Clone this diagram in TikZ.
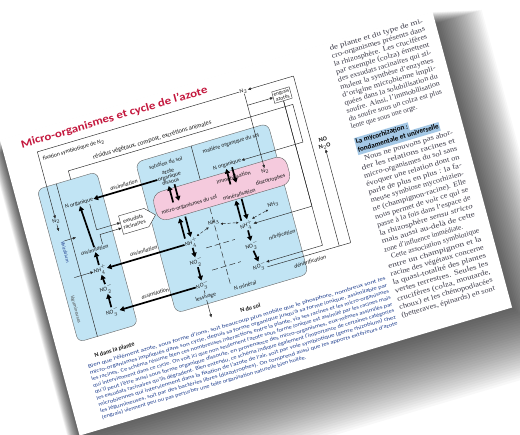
\documentclass[tikz,border=0pt]{standalone}
\usepackage{fontspec}
\usepackage{graphicx}
\setmainfont{Liberation Serif}
\newfontfamily\dia{Carlito}
\usetikzlibrary{arrows.meta,shapes.symbols}
\definecolor{boxblue}{HTML}{C1E4F4}
\definecolor{bandpink}{HTML}{F5CADD}
\definecolor{titlered}{HTML}{C4173D}
\definecolor{parablue}{HTML}{1F3F8F}
\definecolor{coltext}{HTML}{3B3A48}
\definecolor{hilite}{HTML}{A4C8E6}
\newcommand\pline[1]{\resizebox{310pt}{\height}{#1}}
\newcommand\colj[1]{\resizebox{97pt}{\height}{#1}}
\newcommand\colji[1]{\hspace*{5pt}\resizebox{92pt}{\height}{#1}}
\begin{document}
\begin{tikzpicture}[x=1pt,y=-1pt,
 lbl/.style={font=\dia\fontsize{5.8}{6}\selectfont, inner sep=0.4pt, transform shape, align=center, text=black!90},
 itl/.style={lbl, font=\dia\itshape\fontsize{5.8}{6}\selectfont},
 bld/.style={lbl, font=\dia\bfseries\fontsize{6.2}{6.6}\selectfont},
 ln/.style={line width=0.45pt, draw=black!85},
 ar/.style={ln, -{Triangle[length=3pt,width=2.6pt]}},
 tk/.style={line width=1.7pt, draw=black, -{Triangle[length=4.6pt,width=5.2pt]}},
 dsh/.style={ln, dash pattern=on 6pt off 3pt},
 dar/.style={ln, densely dashed, {Triangle[length=2.2pt,width=2.2pt]}-{Triangle[length=2.2pt,width=2.2pt]}},
 boxst/.style={draw=black!60, line width=0.4pt, transform shape, inner sep=0},
]
\useasboundingbox (0,0) rectangle (520,435);
\fill[white] (0,0) rectangle (520,435);
\begin{scope}[cm={0.959,0.284,-0.26,0.966,(0pt,-140pt)}]
 % shadow
 \foreach \k in {1,...,30}{
   \fill[black,opacity=0.027] ({0.6*\k-1.0*\k},{1.4*\k-1.0*\k}) rectangle ({451+0.6*\k+1.0*\k},{306+1.4*\k+1.0*\k});
 }
 \fill[white] (0,0) rectangle (451,306);

 % boxes
 \node[boxst, fill=boxblue, rounded corners=6pt, minimum width=62pt, minimum height=158pt] (plant) at (54,137) {};
 \node[boxst, fill=boxblue, rounded corners=7pt, minimum width=138pt, minimum height=156pt] (soil) at (194,138) {};
 \node[boxst, fill=bandpink, rounded corners=10pt, minimum width=139pt, minimum height=29pt] (band) at (201.5,109.5) {};

 % title
 \node[anchor=base west, inner sep=0, text=titlered, font=\dia\bfseries\fontsize{11}{12}\selectfont, transform shape] (title) at (19,14) {\resizebox{194pt}{\height}{Micro-organismes et cycle de l’azote}};

 % top labels
 \node[lbl] (n2top) at (248,22) {N$_2$};
 \node[lbl] (n2pl) at (33,94) {N$_2$};
 \node[lbl, anchor=base west] (fix) at (36,32) {fixation symbiotique de N$_2$};
 \node[lbl, anchor=base, font=\dia\fontsize{6.4}{6.6}\selectfont] (res) at (147,45) {résidus végétaux, compost, excrétions animales};
 \node[lbl, draw=black!80, fill=white, inner sep=1.2pt, font=\dia\fontsize{5.4}{5.6}\selectfont] (eng) at (284,37) {engrais\\azotés};
 \node[bld] (nox) at (312,95) {NO\\N$_2$O};

 % soil labels
 \node[lbl] (sol) at (154,69) {solution du sol};
 \node[lbl] (mos) at (222,69) {matière organique du sol};
 \node[lbl, font=\dia\fontsize{5.8}{5.2}\selectfont] (aod) at (154,83) {azote\\organique\\dissous};
 \node[lbl] (norgs) at (213,88) {N organique};
 \node[lbl] (mic) at (166,116) {micro-organismes du sol};
 \node[lbl] (immo) at (216,102) {immobilisation};
 \node[lbl] (mine) at (217,120) {minéralisation};
 \node[lbl] (n2pk) at (248,105) {N$_2$};
 \node[lbl] (diaz) at (251,115) {diazotrophes};
 \node[lbl] (nh4l) at (158,153) {NH$_4^+$};
 \node[lbl] (no2l) at (158,173) {NO$_2^-$};
 \node[lbl] (no3l) at (158,197) {NO$_3^-$};
 \node[lbl] (nh4r) at (216,152) {NH$_4^+$};
 \node[lbl] (no2r) at (216,173) {NO$_2^-$};
 \node[lbl] (no3r) at (218,195) {NO$_3^-$};
 \node[lbl] (nh3m) at (185,140) {NH$_3$};
 \node[lbl] (nh3r) at (247,140) {NH$_3$};
 \node[itl] (nitr) at (248,171) {nitrification};
 \node[itl] (denit) at (268,205) {dénitrification};
 \node[lbl] (nmin) at (199,209) {N minéral};
 \node[bld] (ndusol) at (198,232) {N du sol};
 \node[bld] (ndlp) at (56,234) {N dans la plante};

 % plant labels
 \node[lbl] (norgp) at (60,83) {N organique};
 \node[itl] (assimp) at (63,132) {assimilation};
 \node[lbl] (nh4p) at (63,153) {NH$_4^+$};
 \node[lbl] (no2p) at (64,173) {NO$_2^-$};
 \node[lbl] (no3p) at (64,197) {NO$_3^-$};
 \node[lbl, rotate=-90, text=parablue, font=\dia\fontsize{5}{5}\selectfont] (vt1) at (34,126) {Rhizobium};
 \node[lbl, rotate=-90, text=black!70, font=\dia\fontsize{5}{5}\selectfont] (vt2) at (29,184) {légumineuses};
 \node[itl] (ass1) at (108,78) {assimilation};
 \node[itl] (ass2) at (110,147) {assimilation};
 \node[itl] (ass3) at (110,191) {assimilation};
 \node[lbl, signal, signal to=east, draw=black!80, fill=white, minimum width=36pt, minimum height=19pt, inner sep=1pt] (exs) at (108,116) {exsudats\\racinaires};

 % coordinates
 \coordinate (cNE) at (300,22);
 \coordinate (cSE) at (300,198);
 \coordinate (cSE2) at (312,198);
 \coordinate (n2d) at (248,37);
 \coordinate (rs) at (58,58);
 \coordinate (rc1) at (58,49);
 \coordinate (rc2) at (292,49);
 \coordinate (rc3) at (292,88);
 \coordinate (st) at (43,58);
 \coordinate (sb) at (43,216);
 \coordinate (dt1) at (183,60);
 \coordinate (dt2) at (183,95);
 \coordinate (n2s) at (33,104);
 \coordinate (sa1) at (36,115);
 \coordinate (sa2) at (48,115);
 \coordinate (sa3) at (36,153);
 \coordinate (e1) at (70,87);
 \coordinate (e2) at (72,129);
 \coordinate (lend) at (158,230);
 \coordinate (dv1) at (185,125);
 \coordinate (dv2) at (185,203);
 \coordinate (hA1) at (171,162);
 \coordinate (hA2) at (201,162);
 \coordinate (hB1) at (171,185);
 \coordinate (hB2) at (201,185);
 \coordinate (p1a) at (151,109); \coordinate (p1b) at (151,92);
 \coordinate (p2a) at (157,92);  \coordinate (p2b) at (157,109);
 \coordinate (p3a) at (153,147); \coordinate (p3b) at (153,126);
 \coordinate (p4a) at (159,126); \coordinate (p4b) at (159,147);
 \coordinate (p5a) at (211,108); \coordinate (p5b) at (211,92);
 \coordinate (p6a) at (217,92);  \coordinate (p6b) at (217,108);
 \coordinate (p7a) at (212,146); \coordinate (p7b) at (212,125);
 \coordinate (p8a) at (218,125); \coordinate (p8b) at (218,146);

 % thin connectors
 \draw[ar] (n2top.west) -| (n2pl.north);
 \draw[ar] (cNE) -- (n2top.east);
 \draw[ln] (cSE) -- (cNE);
 \draw[ar] (cSE2) -- (nox.south);
 \draw[ln] ([yshift=-2.5pt]no3r.east) -- (cSE2);
 \draw[ar] (n2top.south) -- (n2pk.north);
 \draw[ar] (n2d) -- (eng.west);
 \draw[ar] (rs) -- (rc1) -- (rc2) -- (rc3) -- (norgs.east);
 \draw[ar] (eng.south) |- (nh4r.east);
 \draw[ar] (eng.south) |- ([yshift=2.5pt]no3r.east);
 \draw[ln] (st) -- (sb);
 \draw[ln] (dt1) -- (dt2);
 \draw[ar] (n2pl.south) -- (n2s);
 \draw[ar] (sa1) -- (sa2);
 \draw[ar] (sa3) -- (nh4p.west);
 \draw[ar] (e1) |- ([yshift=2.5pt]exs.west);
 \draw[ar] (e2) |- ([yshift=-3pt]exs.west);
 \draw[dsh] (dv1) -- (dv2);
 \draw[dsh] (hA1) -- (hA2);
 \draw[dsh] (hB1) -- (hB2);
 \draw[dar] (nh3m.south west) -- (nh4l.north east);
 \draw[dar] (nh3m.south east) -- (nh4r.north west);
 \draw[dar] (nh4r.north east) -- (nh3r.south west);
 \draw[ar] (no3l.south) -- (lend);
 \node[lbl, fill=boxblue] (less) at (158,209) {lessivage};

 % thick arrows
 \draw[tk] (aod.west) -- (norgp.east);
 \draw[tk] (nh4l.west) -- (nh4p.east);
 \draw[tk] (no3l.west) -- (no3p.east);
 \draw[tk] (no3p.north) -- (no2p.south);
 \draw[tk] (no2p.north) -- (nh4p.south);
 \draw[tk] (nh4p.north) -- (assimp.south);
 \draw[tk] (assimp.north) -- (norgp.south);
 \draw[tk] (nh4l.south) -- (no2l.north);
 \draw[tk] (no2l.south) -- (no3l.north);
 \draw[tk] (nh4r.south) -- (no2r.north);
 \draw[tk] (no2r.south) -- (no3r.north);
 \draw[tk] (p1a) -- (p1b);
 \draw[tk] (p2a) -- (p2b);
 \draw[tk] (p3a) -- (p3b);
 \draw[tk] (p4a) -- (p4b);
 \draw[tk] (p5a) -- (p5b);
 \draw[tk] (p6a) -- (p6b);
 \draw[tk] (p7a) -- (p7b);
 \draw[tk] (p8a) -- (p8b);

 % paragraph under the diagram
 \node[anchor=north west, inner sep=0, align=left, text=parablue, font=\dia\fontsize{5.3}{6.6}\selectfont, transform shape] (para) at (26,240) {%
 \pline{Bien que l’élément azote, sous forme d’ions, soit beaucoup plus mobile que le phosphore, nombreux sont les}\\
 \pline{micro-organismes impliqués dans son cycle, depuis sa forme organique jusqu’à sa forme ionique, assimilable par}\\
 \pline{les racines. Ce schéma résume bien ces nombreuses interactions entre la plante, via ses racines et les micro-organismes}\\
 \pline{qui interviennent dans ce cycle. On voit ici que non seulement l’azote sous forme ionique est assimilé par les racines mais}\\
 \pline{qu’il peut l’être aussi sous forme organique dissoute, en provenance des micro-organismes, eux-mêmes assimilés par}\\
 \pline{les exsudats racinaires qu’ils dégradent. Bien entendu, ce schéma indique également l’importance de certaines catégories}\\
 \pline{microbiennes qui interviennent dans la fixation de l’azote de l’air, soit par voie symbiotique (genre rhizobium) chez}\\
 \pline{les légumineuses, soit par des bactéries libres (diazotrophes). On comprend aussi que les apports extérieurs d’azote}\\
 \resizebox{213pt}{\height}{(engrais) viennent peu ou pas perturber une telle organisation naturelle bien huilée.}};

 % right column
 \node[anchor=north west, inner sep=0, align=left, text=coltext, font=\fontsize{7.2}{8.1}\selectfont, transform shape] (colA) at (342,3) {%
 \colj{de plante et du type de mi-}\\
 \colj{cro-organismes présents dans}\\
 \colj{la rhizosphère. Les crucifères}\\
 \colj{par exemple (colza) émettent}\\
 \colj{des exsudats racinaires qui sti-}\\
 \colj{mulent la synthèse d’enzymes}\\
 \colj{d’origine microbienne impli-}\\
 \colj{quées dans la solubilisation du}\\
 \colj{soufre. Ainsi, l’immobilisation}\\
 \colj{du soufre sous un colza est plus}\\
 lente que sous une orge.};
 \node[anchor=base west, fill=hilite, inner xsep=1pt, inner ysep=0.8pt, text height=5.4pt, text depth=1.9pt, font=\dia\bfseries\fontsize{7.2}{8}\selectfont, transform shape] (h1) at (342,105) {La mycorhization :};
 \node[anchor=base west, fill=hilite, inner xsep=1pt, inner ysep=0.8pt, text height=5.4pt, text depth=1.9pt, font=\dia\bfseries\fontsize{7.2}{8}\selectfont, transform shape] (h2) at (342,113.5) {fondamentale et universelle};
 \node[anchor=north west, inner sep=0, align=left, text=coltext, font=\fontsize{7.2}{8.5}\selectfont, transform shape] (colB) at (342,118) {%
 \colji{Nous ne pouvons pas abor-}\\
 \colj{der les relations racines et}\\
 \colj{micro-organismes du sol sans}\\
 \colj{évoquer une relation dont on}\\
 \colj{parle de plus en plus : la fa-}\\
 \colj{meuse symbiose mycorhizien-}\\
 \colj{ne (champignon-racine). Elle}\\
 \colj{nous permet de voir ce qui se}\\
 \colj{passe à la fois dans l’espace de}\\
 \colj{la rhizosphère \textit{sensu stricto}}\\
 \colj{mais aussi au-delà de cette}\\
 zone d’influence immédiate.\\
 \colji{Cette association symbiotique}\\
 \colj{entre un champignon et la}\\
 \colj{racine des végétaux concerne}\\
 \colj{la quasi-totalité des plantes}\\
 \colj{vertes terrestres. Seules les}\\
 \colj{crucifères (colza, moutarde,}\\
 \colj{choux) et les chénopodiacées}\\
 \colj{(betteraves, épinards) en sont}};
\end{scope}
\end{tikzpicture}
\end{document}
